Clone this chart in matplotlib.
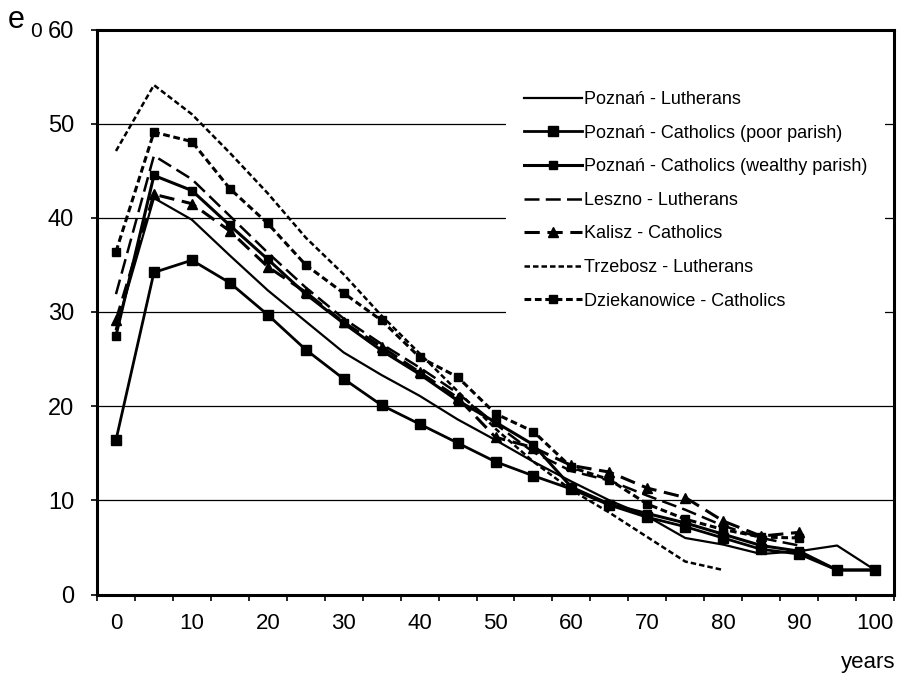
import matplotlib
matplotlib.use('Agg')
import matplotlib.pyplot as plt

plt.rcParams['font.family'] = ['Liberation Sans', 'DejaVu Sans']

# Age categories (5-year steps), labelled every 10 years
ages = [0, 5, 10, 15, 20, 25, 30, 35, 40, 45, 50, 55, 60, 65, 70, 75, 80, 85, 90, 95, 100]
tick_labels = ['0', '10', '20', '30', '40', '50', '60', '70', '80', '90', '100']

poznan_lutherans = [28.2, 42.1, 39.8, 36.0, 32.3, 29.0, 25.7, 23.3, 21.1, 18.6, 16.4, 14.1, 12.0, 10.0, 8.3, 6.0, 5.3, 4.3, 4.6, 5.2, 2.6]
poznan_cath_poor = [16.4, 34.2, 35.5, 33.1, 29.7, 26.0, 22.9, 20.1, 18.1, 16.1, 14.1, 12.6, 11.2, 9.5, 8.2, 7.2, 6.0, 4.8, 4.3, 2.6, 2.6]
poznan_cath_wealthy = [27.5, 44.5, 42.9, 39.2, 35.6, 31.9, 28.8, 25.9, 23.4, 20.6, 18.3, 15.9, 11.4, 9.6, 8.6, 7.6, 6.4, 5.2, 4.6, 2.6, 2.6]
leszno_lutherans = [31.9, 46.6, 44.1, 40.2, 36.3, 32.6, 29.3, 26.6, 24.1, 21.4, 18.1, 15.1, 13.1, 12.1, 10.5, 9.0, 7.3, 6.0, 5.2]
kalisz_catholics = [29.1, 42.5, 41.5, 38.6, 34.8, 32.1, 28.9, 26.3, 23.6, 20.9, 16.7, 15.6, 13.7, 13.0, 11.3, 10.3, 7.8, 6.2, 6.6]
trzebosz_lutherans = [47.1, 54.1, 51.0, 46.9, 42.6, 37.9, 34.0, 29.6, 25.6, 21.6, 17.6, 14.1, 11.1, 8.7, 6.1, 3.5, 2.6]
dziekanowice_catholics = [36.4, 49.1, 48.1, 43.1, 39.4, 35.0, 32.0, 29.1, 25.2, 23.1, 19.2, 17.3, 13.5, 12.2, 9.6, 8.0, 6.9, 6.1, 6.0]

labels = ['Poznań - Lutherans', 'Poznań - Catholics (poor parish)',
          'Poznań - Catholics (wealthy parish)', 'Leszno - Lutherans',
          'Kalisz - Catholics', 'Trzebosz - Lutherans', 'Dziekanowice - Catholics']

fig = plt.figure(figsize=(8.97, 6.75), dpi=100)
ax = fig.add_axes([97 / 897, (675 - 594.5) / 675, 797 / 897, 565 / 675])

def xs(v):
    return ages[:len(v)]

ax.plot(xs(poznan_lutherans), poznan_lutherans, color='black', lw=1.6, ls='-', label=labels[0], zorder=3)
ax.plot(xs(poznan_cath_poor), poznan_cath_poor, color='black', lw=2.0, ls='-', marker='s', ms=7, label=labels[1], zorder=3)
ax.plot(xs(poznan_cath_wealthy), poznan_cath_wealthy, color='black', lw=2.2, ls='-', marker='s', ms=6, label=labels[2], zorder=3)
ax.plot(xs(leszno_lutherans), leszno_lutherans, color='black', lw=1.8, ls=(0, (6, 2.5)), label=labels[3], zorder=3)
ax.plot(xs(kalisz_catholics), kalisz_catholics, color='black', lw=2.2, ls=(0, (5, 2.5)), marker='^', ms=7, label=labels[4], zorder=3)
ax.plot(xs(trzebosz_lutherans), trzebosz_lutherans, color='black', lw=1.8, ls=(0, (2.2, 1.2)), label=labels[5], zorder=3)
ax.plot(xs(dziekanowice_catholics), dziekanowice_catholics, color='black', lw=2.2, ls=(0, (2.2, 1.2)), marker='s', ms=6, label=labels[6], zorder=3)

ax.set_xlim(-2.5, 102.5)
ax.set_ylim(0, 60)
ax.set_yticks(range(0, 61, 10))
ax.set_xticks(list(range(0, 101, 10)))
ax.set_xticklabels(tick_labels)
ax.set_xticks([a - 2.5 for a in ages] + [102.5], minor=True)
ax.tick_params(axis='x', which='major', length=0, pad=13, labelsize=16)
ax.tick_params(axis='x', which='minor', length=4.5, width=1.2, direction='out')
ax.tick_params(axis='y', which='major', length=4.5, width=1.2, direction='out', pad=12, labelsize=17)

for y in range(10, 60, 10):
    ax.axhline(y, color='black', lw=0.9, zorder=1)

for s in ax.spines.values():
    s.set_linewidth(2.2)
    s.set_color('black')

leg = ax.legend(loc='upper left', bbox_to_anchor=(506 / 897, 1 - 73 / 675),
                bbox_transform=fig.transFigure, frameon=True, fancybox=False,
                edgecolor='none', facecolor='white', framealpha=1.0,
                fontsize=13, handlelength=3.2, handletextpad=0.12,
                labelspacing=0.92, borderpad=1.0, borderaxespad=0)
leg.set_zorder(5)

fig.text(8 / 897, 1 - 28 / 675, 'e', fontsize=22, ha='left', va='baseline')
fig.text(30 / 897, 1 - 37 / 675, '0', fontsize=15, ha='left', va='baseline')
fig.text(895 / 897, 1 - 668 / 675, 'years', fontsize=16, ha='right', va='baseline')

fig.savefig('out.png', dpi=100)
